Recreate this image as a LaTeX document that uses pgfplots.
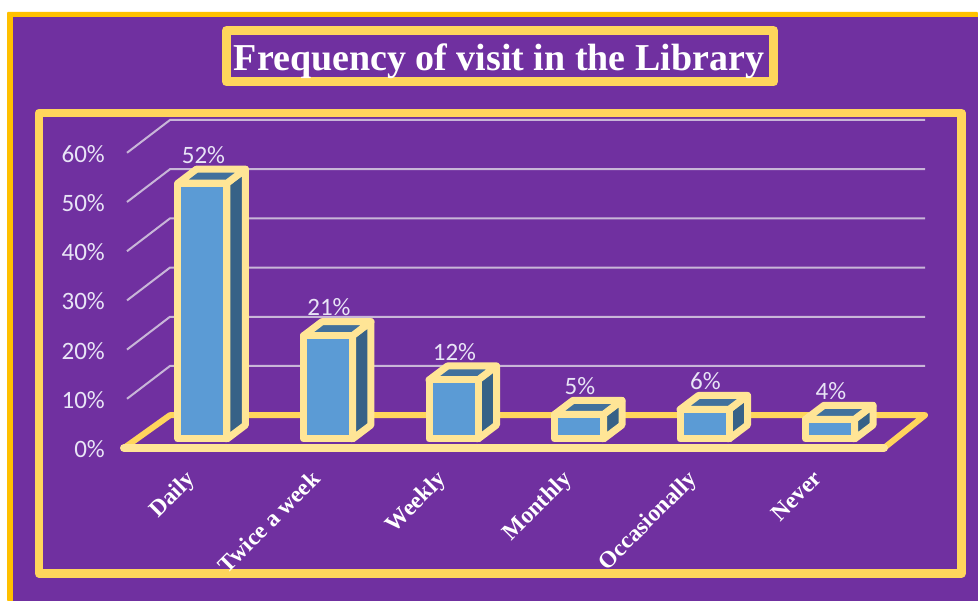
\documentclass[border=0pt]{standalone}
\usepackage{fontspec}
\setmainfont{Liberation Serif}
\newfontfamily\calibri{Carlito}
\usepackage{pgfplots}
\pgfplotsset{compat=1.18}
\definecolor{bgpurple}{HTML}{7030A0}
\definecolor{outerline}{HTML}{FFC000}
\definecolor{frameline}{HTML}{FFD55C}
\definecolor{cream}{HTML}{FFE596}
\definecolor{gridc}{HTML}{C8B6D8}
\definecolor{barfront}{HTML}{5B9BD5}
\definecolor{barside}{HTML}{376287}
\definecolor{bartop}{HTML}{41719C}
\definecolor{labelc}{HTML}{E8E4F6}

% one 3D column: category index, value
\newcommand{\cube}[2]{%
  \pgfmathsetmacro{\xl}{#1-0.1952}
  \pgfmathsetmacro{\xr}{#1+0.1952}
  \pgfmathsetmacro{\xld}{#1-0.1952+0.1474}
  \pgfmathsetmacro{\xrd}{#1+0.1952+0.1474}
  \pgfmathsetmacro{\vd}{#2+2.85}
  \addplot[facestyle, fill=barside] coordinates {(\xr,0) (\xrd,2.85) (\xrd,\vd) (\xr,#2)} -- cycle;
  \addplot[facestyle, fill=bartop] coordinates {(\xl,#2) (\xr,#2) (\xrd,\vd) (\xld,\vd)} -- cycle;
  \addplot[facestyle, fill=barfront, ybar, bar width=49pt, bar shift=0pt,
    nodes near coords={\pgfmathprintnumber{\pgfplotspointmeta}\%},
    every node near coord/.style={font=\calibri\fontsize{25}{25}\selectfont, text=labelc,
      anchor=south, xshift=1pt, yshift=16pt, inner sep=0pt}]
    coordinates {(#1,#2)};
}
% one gridline running up the side wall and along the back wall
\newcommand{\wallgrid}[1]{%
  \pgfmathsetmacro{\vb}{#1+6.67}
  \addplot[gridc, line width=2pt] coordinates {(-0.5936,#1) (-0.2510,\vb) (5.7649,\vb)};
}

\begin{document}
\begin{tikzpicture}
\begin{scope}[x=1pt,y=-1pt]
  \path[use as bounding box, fill=white] (0,0) rectangle (978,601);
  \fill[outerline, rounded corners=1pt] (7,12) rectangle (978,601);
  \fill[bgpurple] (12.5,17.5) rectangle (978,601);
  \draw[frameline, line width=8.5pt, line join=round] (39,113) rectangle (961.5,573.5);
  \draw[frameline, line width=9pt, line join=round] (226.5,30.5) rectangle (773.5,82);
  \node[text=white, font=\bfseries\fontsize{38}{38}\selectfont, inner sep=0pt] at (499,61.5) {Frequency of visit in the Library};
\end{scope}
\begin{axis}[
  at={(124pt,-448pt)}, anchor=south west,
  scale only axis, width=760pt, height=295.2pt,
  xmin=-0.6175, xmax=5.4382, ymin=0, ymax=60,
  clip=false,
  axis line style={draw=none},
  tick style={draw=none},
  xtick={0,1,2,3,4,5},
  xticklabels={Daily,Twice a week,Weekly,Monthly,Occasionally,Never},
  ytick={0,10,20,30,40,50,60},
  yticklabel={\pgfmathprintnumber{\tick}\%},
  /pgf/number format/assume math mode=true,
  yticklabel style={font=\calibri\fontsize{25}{25}\selectfont, text=labelc, anchor=east, xshift=-19pt, yshift=-1pt, inner sep=0pt},
  xticklabel style={font=\bfseries\fontsize{23.5}{23.5}\selectfont, text=white, rotate=45, anchor=north east, inner sep=0pt, xshift=-26.7pt, yshift=-2.6pt},
  facestyle/.style={draw=cream, line width=7pt, line join=round, yshift=9pt, xshift=1pt},
]
\wallgrid{10}
\wallgrid{20}
\wallgrid{30}
\wallgrid{40}
\wallgrid{50}
\wallgrid{60}
% floor of the chart
\addplot[frameline, line width=6pt, line join=round, line cap=round] coordinates {(-0.6175,0) (-0.2510,6.67) (5.7649,6.67) (5.4382,0)};
\addplot[cream, line width=8pt, line cap=round] coordinates {(-0.6175,0) (5.4382,0)};
\cube{0}{52}
\cube{1}{21}
\cube{2}{12}
\cube{3}{5}
\cube{4}{6}
\cube{5}{4}
\end{axis}
\end{tikzpicture}
\end{document}
